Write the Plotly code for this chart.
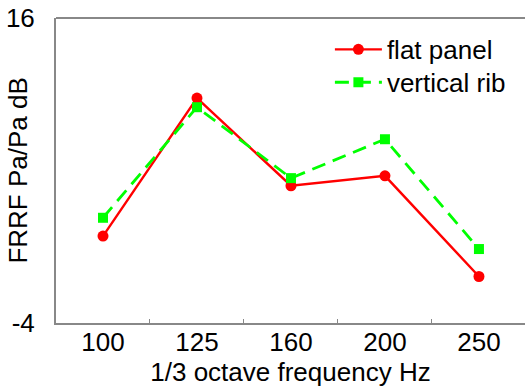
import plotly.graph_objects as go

categories = ["100", "125", "160", "200", "250"]
flat_panel = [1.7, 10.75, 5.0, 5.65, -0.95]
vertical_rib = [2.9, 10.15, 5.5, 8.05, 0.85]
y_ticks = [-4, 16]
# tick marks sit between the categories
between_ticks = [0.5, 1.5, 2.5, 3.5]

FONT = "Liberation Sans, Arial, sans-serif"
X_RANGE = [-0.5, 4.49]

fig = go.Figure()
fig.add_trace(go.Scatter(
    x=categories, y=flat_panel, name="flat panel", mode="lines+markers",
    line=dict(color="#FF0000", width=2.4),
    marker=dict(symbol="circle", size=11, color="#FF0000"),
    legend="legend",
))
fig.add_trace(go.Scatter(
    x=categories, y=vertical_rib, name="vertical rib", mode="lines+markers",
    line=dict(color="#00FF00", width=2.8, dash="14px,8px"),
    marker=dict(symbol="square", size=10, color="#00FF00"),
    legend="legend2",
))

fig.add_shape(type="line", xref="paper", yref="paper", x0=0, x1=1, y0=1, y1=1,
              line=dict(color="#888888", width=2))
fig.add_annotation(text="FRRF Pa/Pa dB", xref="paper", yref="paper",
                   x=-0.083, y=0.5, xanchor="center", yanchor="middle",
                   textangle=-90, showarrow=False, font=dict(size=26))

leg_common = dict(xanchor="left", yanchor="top", bgcolor="rgba(0,0,0,0)",
                  font=dict(size=26), itemwidth=47)

fig.update_layout(
    width=525, height=387,
    margin=dict(l=56, r=0, t=18, b=64),
    paper_bgcolor="white", plot_bgcolor="white",
    font=dict(family=FONT, size=26, color="black"),
    showlegend=True,
    legend=dict(x=0.584, y=0.974, **leg_common),
    legend2=dict(x=0.584, y=0.866, **leg_common),
    xaxis=dict(
        type="category", range=X_RANGE, automargin=False,
        showline=True, linecolor="#888888", linewidth=2,
        showgrid=False, zeroline=False, ticks="",
        ticklabelstandoff=-5,
        title=dict(text="1/3 octave frequency Hz", standoff=0,
                   font=dict(size=26)),
    ),
    xaxis2=dict(
        overlaying="x", side="bottom", type="linear", range=X_RANGE,
        automargin=False, tickvals=between_ticks, showticklabels=False,
        ticks="inside", ticklen=4, tickwidth=1, tickcolor="#888888",
        showline=False, showgrid=False, zeroline=False,
    ),
    yaxis=dict(
        range=[-4, 16], tickvals=y_ticks, ticktext=[str(v) for v in y_ticks],
        automargin=False,
        showline=True, linecolor="#888888", linewidth=2,
        showgrid=False, zeroline=False, ticks="",
        ticklabelstandoff=14,
    ),
)
# invisible helper so the tick axis is rendered
fig.add_trace(go.Scatter(x=[], y=[], xaxis="x2", showlegend=False,
                         hoverinfo="skip"))

fig.write_html("out.html")
